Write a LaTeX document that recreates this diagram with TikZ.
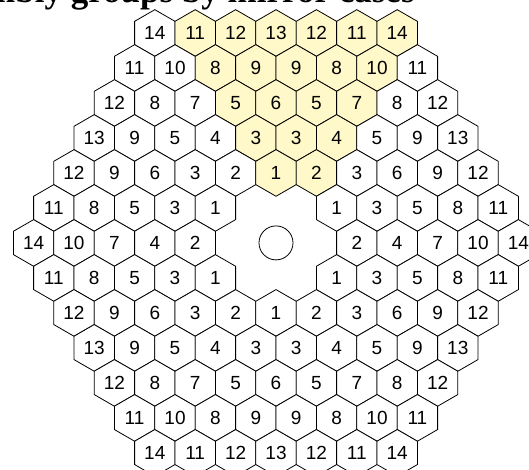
\documentclass[tikz,border=0pt]{standalone}
\usepackage{fontspec}
\setmainfont{Liberation Sans}
\newfontfamily\titlefont{Liberation Serif}
\definecolor{hlfill}{RGB}{255,248,200}
\tikzset{
  hexline/.style={draw=black, line width=0.8pt, line join=miter},
  hexnum/.style={font=\fontsize{19}{19}\selectfont, inner sep=0pt},
  titletext/.style={font=\titlefont\bfseries\fontsize{35}{35}\selectfont, anchor=base west, inner sep=0pt},
  holeshape/.style={draw=black, circle, line width=0.8pt, minimum size=34pt, inner sep=0pt},
}
\def\hw{20.2}
\def\hs{23.324}
\def\hh{11.662}
\def\emptymark{o}
\begin{document}
\begin{tikzpicture}[x=1pt,y=1pt]
\useasboundingbox (0,0) rectangle (529,-470);
\clip (0,0) rectangle (529,-470);
\node[titletext] (title) at (-82,-3) {Assembly groups by mirror cases};
\foreach \r/\lst in {
  1/{14,11,12,13,12,11,14},
  2/{11,10,8,9,9,8,10,11},
  3/{12,8,7,5,6,5,7,8,12},
  4/{13,9,5,4,3,3,4,5,9,13},
  5/{12,9,6,3,2,1,2,3,6,9,12},
  6/{11,8,5,3,1,o,o,1,3,5,8,11},
  7/{14,10,7,4,2,o,o,o,2,4,7,10,14},
  8/{11,8,5,3,1,o,o,1,3,5,8,11},
  9/{12,9,6,3,2,1,2,3,6,9,12},
  10/{13,9,5,4,3,3,4,5,9,13},
  11/{12,8,7,5,6,5,7,8,12},
  12/{11,10,8,9,9,8,10,11},
  13/{14,11,12,13,12,11,14}} {
  \foreach \lab [count=\c] in \lst {
    \ifx\lab\emptymark\else
      \pgfmathsetmacro\n{13-abs(\r-7)}
      \pgfmathsetmacro\cx{276+(\c-(\n+1)/2)*40.4}
      \pgfmathsetmacro\cy{-(33+(\r-1)*34.99)}
      \pgfmathtruncatemacro\ishl{and(and(\r<6,\c>\r),\c<8)}
      \ifnum\ishl=1 \def\fc{hlfill}\else\def\fc{white}\fi
      \filldraw[hexline, fill=\fc]
        (\cx,\cy+\hs) -- (\cx+\hw,\cy+\hh) -- (\cx+\hw,\cy-\hh) --
        (\cx,\cy-\hs) -- (\cx-\hw,\cy-\hh) -- (\cx-\hw,\cy+\hh) -- cycle;
      \node[hexnum] (h\r-\c) at (\cx,\cy) {\lab};
    \fi
  }
}
\node[holeshape] (hole) at (276,-242.9) {};
\end{tikzpicture}
\end{document}
